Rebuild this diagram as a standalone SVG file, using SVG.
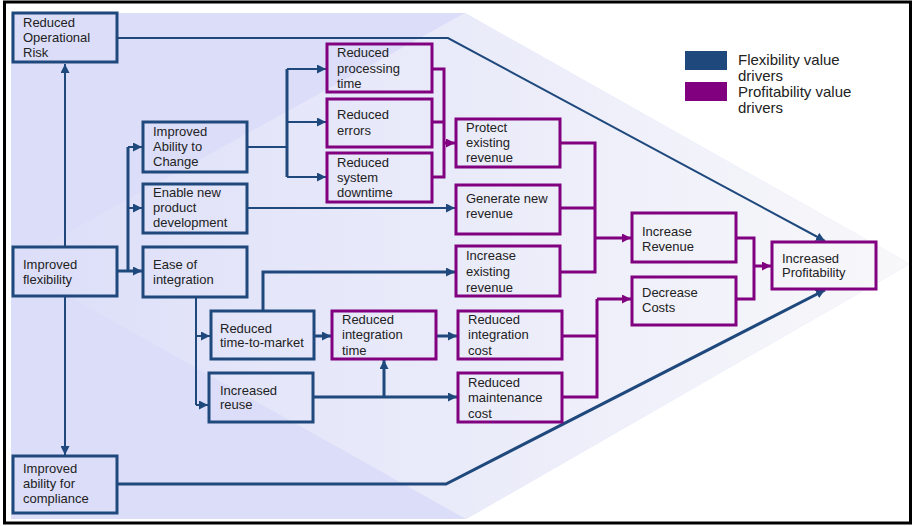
<svg xmlns="http://www.w3.org/2000/svg" width="914" height="526" viewBox="0 0 914 526">
  <defs>
    <linearGradient id="bodyGrad" gradientUnits="userSpaceOnUse" x1="10" y1="0" x2="910" y2="0">
      <stop offset="0" stop-color="#dcdef9"/>
      <stop offset="1" stop-color="#f8f8fa"/>
    </linearGradient>
    <marker id="arrBlue" markerUnits="userSpaceOnUse" markerWidth="10" markerHeight="9" refX="9" refY="4.5" orient="auto">
      <path d="M0,0 L9,4.5 L0,9 z" fill="#1f497d"/>
    </marker>
    <marker id="arrPurple" markerUnits="userSpaceOnUse" markerWidth="10" markerHeight="9" refX="9" refY="4.5" orient="auto">
      <path d="M0,0 L9,4.5 L0,9 z" fill="#800080"/>
    </marker>
    <style>
      .txt { font-family: "Liberation Sans", Arial, sans-serif; font-size: 13px; fill: #222222; }
      .leg { font-family: "Liberation Sans", Arial, sans-serif; font-size: 15px; fill: #222222; }
      .bbox { fill: none; stroke: #1f497d; stroke-width: 3; }
      .pbox { fill: none; stroke: #800080; stroke-width: 3; }
      .bl { fill: none; stroke: #1f497d; stroke-width: 2; }
      .blt { fill: none; stroke: #1f497d; stroke-width: 3; }
      .pl { fill: none; stroke: #800080; stroke-width: 3; }
      .ab { marker-end: url(#arrBlue); }
      .ap { marker-end: url(#arrPurple); }
    </style>
  </defs>

  <!-- page background and frame -->
  <rect x="0" y="0" width="914" height="526" fill="#ffffff"/>
  <polygon points="11,13 465,13 910,264 466,519 11,519" fill="#dcdef9"/>
  <polygon points="11,264 465,13 910,264 466,519" fill="url(#bodyGrad)"/>
  <rect x="4.5" y="2" width="906" height="521" fill="none" stroke="#000000" stroke-width="3"/>

  <!-- legend -->
  <g id="legend">
    <rect x="685" y="51" width="42" height="19" fill="#1f497d"/>
    <rect x="685" y="82" width="42" height="19" fill="#800080"/>
    <text class="leg" x="738" y="65">Flexibility value</text>
    <text class="leg" x="738" y="81">drivers</text>
    <text class="leg" x="738" y="97">Profitability value</text>
    <text class="leg" x="738" y="113">drivers</text>
  </g>

  <!-- connectors -->
  <g id="connectors">
    <!-- flexibility drivers -->
    <path class="bl ab" d="M65,247 V64"/>
    <path class="bl ab" d="M65,296 V455"/>
    <path class="blt ab" d="M117,271 H142"/>
    <path class="blt" d="M128,271 V147"/>
    <path class="bl ab" d="M128,147 H142"/>
    <path class="bl ab" d="M128,208 H142"/>
    <path class="bl" d="M247,147 H287"/>
    <path class="blt" d="M287,69 V177"/>
    <path class="bl ab" d="M287,69 H326"/>
    <path class="bl ab" d="M287,122 H326"/>
    <path class="bl ab" d="M287,177 H326"/>
    <path class="bl ab" d="M247,208 H455"/>
    <path class="bl" d="M196,297 V405"/>
    <path class="bl ab" d="M196,336 H210"/>
    <path class="bl ab" d="M196,405 H208"/>
    <path class="blt ab" d="M263,311 V272 H455"/>
    <path class="blt ab" d="M314,336 H331"/>
    <path class="blt ab" d="M436,336 H457"/>
    <path class="blt ab" d="M313,397 H457"/>
    <path class="blt ab" d="M384,397 V360"/>
    <path class="bl ab" d="M117,38 H448 L825,241" stroke-width="2.5"/>
    <path class="blt ab" d="M117,484 H446 L825,290"/>
    <!-- profitability drivers -->
    <path class="pl" d="M432,69 H444 V177 H432"/>
    <path class="pl" d="M432,122 H444"/>
    <path class="pl ap" d="M444,143 H455"/>
    <path class="pl" d="M560,143 H595 V272 H560"/>
    <path class="pl" d="M560,208 H595"/>
    <path class="pl ap" d="M595,238 H631"/>
    <path class="pl" d="M562,336 H597"/>
    <path class="pl" d="M597,299 V397 H562"/>
    <path class="pl ap" d="M597,299 H631"/>
    <path class="pl" d="M736,238 H754 V299 H736"/>
    <path class="pl ap" d="M754,266 H771"/>
  </g>

  <!-- flexibility value drivers -->
  <g id="reduced-operational-risk">
    <rect class="bbox" x="13" y="13" width="104" height="49"/>
    <text class="txt" x="23" y="27">Reduced</text>
    <text class="txt" x="23" y="42">Operational</text>
    <text class="txt" x="23" y="57">Risk</text>
  </g>
  <g id="improved-flexibility">
    <rect class="bbox" x="13" y="247" width="104" height="49"/>
    <text class="txt" x="23" y="269">Improved</text>
    <text class="txt" x="23" y="284">flexibility</text>
  </g>
  <g id="improved-ability-for-compliance">
    <rect class="bbox" x="13" y="456" width="104" height="57"/>
    <text class="txt" x="23" y="473">Improved</text>
    <text class="txt" x="23" y="488">ability for</text>
    <text class="txt" x="23" y="503">compliance</text>
  </g>
  <g id="improved-ability-to-change">
    <rect class="bbox" x="143" y="122" width="104" height="50"/>
    <text class="txt" x="153" y="136">Improved</text>
    <text class="txt" x="153" y="151">Ability to</text>
    <text class="txt" x="153" y="166">Change</text>
  </g>
  <g id="enable-new-product-development">
    <rect class="bbox" x="143" y="184" width="104" height="49"/>
    <text class="txt" x="153" y="197">Enable new</text>
    <text class="txt" x="153" y="212">product</text>
    <text class="txt" x="153" y="227">development</text>
  </g>
  <g id="ease-of-integration">
    <rect class="bbox" x="143" y="247" width="104" height="50"/>
    <text class="txt" x="153" y="269">Ease of</text>
    <text class="txt" x="153" y="284">integration</text>
  </g>
  <g id="reduced-time-to-market">
    <rect class="bbox" x="211" y="311" width="103" height="48"/>
    <text class="txt" x="220" y="333">Reduced</text>
    <text class="txt" x="220" y="347">time-to-market</text>
  </g>
  <g id="increased-reuse">
    <rect class="bbox" x="209" y="373" width="104" height="49"/>
    <text class="txt" x="220" y="395">Increased</text>
    <text class="txt" x="220" y="409">reuse</text>
  </g>

  <!-- profitability value drivers -->
  <g id="reduced-processing-time">
    <rect class="pbox" x="327" y="44" width="105" height="48"/>
    <text class="txt" x="337" y="57">Reduced</text>
    <text class="txt" x="337" y="73">processing</text>
    <text class="txt" x="337" y="88">time</text>
  </g>
  <g id="reduced-errors">
    <rect class="pbox" x="327" y="99" width="105" height="48"/>
    <text class="txt" x="337" y="119">Reduced</text>
    <text class="txt" x="337" y="135">errors</text>
  </g>
  <g id="reduced-system-downtime">
    <rect class="pbox" x="327" y="153" width="105" height="49"/>
    <text class="txt" x="337" y="167">Reduced</text>
    <text class="txt" x="337" y="182">system</text>
    <text class="txt" x="337" y="197">downtime</text>
  </g>
  <g id="reduced-integration-time">
    <rect class="pbox" x="332" y="311" width="104" height="48"/>
    <text class="txt" x="342" y="324">Reduced</text>
    <text class="txt" x="342" y="339">integration</text>
    <text class="txt" x="342" y="355">time</text>
  </g>
  <g id="protect-existing-revenue">
    <rect class="pbox" x="456" y="119" width="104" height="48"/>
    <text class="txt" x="466" y="132">Protect</text>
    <text class="txt" x="466" y="147">existing</text>
    <text class="txt" x="466" y="162">revenue</text>
  </g>
  <g id="generate-new-revenue">
    <rect class="pbox" x="456" y="185" width="104" height="49"/>
    <text class="txt" x="466" y="203">Generate new</text>
    <text class="txt" x="466" y="218">revenue</text>
  </g>
  <g id="increase-existing-revenue">
    <rect class="pbox" x="456" y="246" width="104" height="50"/>
    <text class="txt" x="466" y="260">Increase</text>
    <text class="txt" x="466" y="276">existing</text>
    <text class="txt" x="466" y="292">revenue</text>
  </g>
  <g id="reduced-integration-cost">
    <rect class="pbox" x="458" y="311" width="104" height="48"/>
    <text class="txt" x="468" y="324">Reduced</text>
    <text class="txt" x="468" y="339">integration</text>
    <text class="txt" x="468" y="355">cost</text>
  </g>
  <g id="reduced-maintenance-cost">
    <rect class="pbox" x="458" y="373" width="104" height="49"/>
    <text class="txt" x="468" y="387">Reduced</text>
    <text class="txt" x="468" y="402">maintenance</text>
    <text class="txt" x="468" y="418">cost</text>
  </g>
  <g id="increase-revenue">
    <rect class="pbox" x="632" y="213" width="104" height="49"/>
    <text class="txt" x="642" y="236">Increase</text>
    <text class="txt" x="642" y="251">Revenue</text>
  </g>
  <g id="decrease-costs">
    <rect class="pbox" x="632" y="277" width="104" height="48"/>
    <text class="txt" x="642" y="297">Decrease</text>
    <text class="txt" x="642" y="312">Costs</text>
  </g>
  <g id="increased-profitability">
    <rect class="pbox" x="772" y="242" width="104" height="47"/>
    <text class="txt" x="782" y="263">Increased</text>
    <text class="txt" x="782" y="277">Profitability</text>
  </g>
</svg>
